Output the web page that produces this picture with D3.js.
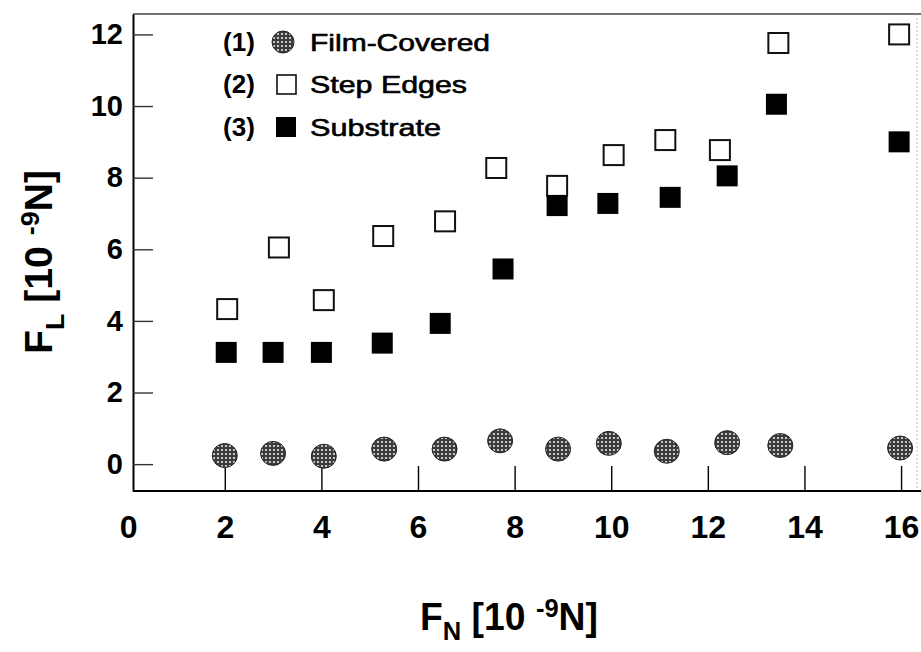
<!DOCTYPE html>
<html>
<head>
<meta charset="utf-8">
<script src="https://cdn.jsdelivr.net/npm/d3@7"></script>
<style>
    body { margin: 0; background: #fff; }
    svg { display: block; }
    text { font-family: "Liberation Sans", Arial, Helvetica, sans-serif; fill: #000; }
</style>
</head>
<body>
<svg id="chart" width="921" height="652"></svg>
<script>
// normal force (x) for each measurement, 10^-9 N
var loadFilm = [2.0, 3.0, 4.05, 5.3, 6.55, 7.7, 8.9, 9.95, 11.15, 12.4, 13.5, 15.98];
var lateralFilm = [0.24, 0.3, 0.22, 0.42, 0.42, 0.65, 0.42, 0.58, 0.36, 0.6, 0.52, 0.45];

var loadStep = [2.05, 3.12, 4.05, 5.28, 6.56, 7.62, 8.88, 10.05, 11.12, 12.25, 13.46, 15.96];
var lateralStep = [4.33, 6.05, 4.58, 6.37, 6.78, 8.27, 7.77, 8.63, 9.05, 8.77, 11.76, 12.0];

var loadSub = [2.03, 3.0, 4.0, 5.26, 6.46, 7.76, 8.88, 9.93, 11.22, 12.4, 13.42, 15.96];
var lateralSub = [3.12, 3.12, 3.12, 3.38, 3.93, 5.45, 7.22, 7.28, 7.45, 8.05, 10.05, 9.0];

var legendNums = ["(1)", "(2)", "(3)"];
var legendNames = ["Film-Covered", "Step Edges", "Substrate"];
var xTicks = [0, 2, 4, 6, 8, 10, 12, 14, 16];
var yTicks = [0, 2, 4, 6, 8, 10, 12];

function drawChart() {
    var svg = d3.select("#chart");

    var x = d3.scaleLinear().domain([0.1, 16.33]).range([133, 917]);
    var y = d3.scaleLinear().domain([-0.75, 12.57]).range([491, 14]);

    // dotted grey fill used for the film-covered circles
    var defs = svg.append("defs");
    var pat = defs.append("pattern")
        .attr("id", "dots")
        .attr("patternUnits", "userSpaceOnUse")
        .attr("width", 4)
        .attr("height", 4);
    pat.append("rect").attr("width", 4).attr("height", 4).attr("fill", "#3c3c3c");
    pat.append("circle").attr("cx", 2).attr("cy", 2).attr("r", 1.1).attr("fill", "#e6e6e6");

    // frame: top and right border lines
    svg.append("line")
        .attr("x1", x.range()[0]).attr("x2", 921)
        .attr("y1", y.range()[1]).attr("y2", y.range()[1])
        .attr("stroke", "#444").attr("stroke-width", 1.6);
    svg.append("line")
        .attr("x1", x.range()[1]).attr("x2", x.range()[1])
        .attr("y1", y.range()[1]).attr("y2", y.range()[0])
        .attr("stroke", "#bbb").attr("stroke-width", 1)
        .attr("stroke-dasharray", "2,2");

    var xAxis = svg.append("g")
        .attr("transform", "translate(0," + y.range()[0] + ")")
        .call(d3.axisBottom(x).tickValues(xTicks).tickSize(-25).tickSizeOuter(0).tickPadding(24)
            .tickFormat(d3.format("d")));
    xAxis.select(".domain").attr("stroke-width", 2).attr("d", "M" + x.range()[0] + ",0H921");
    xAxis.selectAll(".tick line").attr("stroke-width", 1.4)
        .filter(function(d) { return d === 0; }).remove();
    xAxis.selectAll(".tick text")
        .attr("font-size", 32).attr("font-weight", "bold")
        .attr("font-family", "Liberation Sans, Arial, sans-serif");

    var yAxis = svg.append("g")
        .attr("transform", "translate(" + x.range()[0] + ",0)")
        .call(d3.axisLeft(y).tickValues(yTicks).tickSize(-20).tickSizeOuter(0).tickPadding(10));
    yAxis.select(".domain").attr("stroke-width", 2);
    yAxis.selectAll(".tick line").attr("stroke-width", 1.4).attr("stroke", "#333");
    yAxis.selectAll(".tick text")
        .attr("font-size", 29).attr("font-weight", "bold")
        .attr("font-family", "Liberation Sans, Arial, sans-serif");

    // series 1 - film covered
    svg.append("g").selectAll("ellipse")
        .data(loadFilm)
        .enter().append("ellipse")
        .attr("cx", function(d) { return x(d); })
        .attr("cy", function(d, i) { return y(lateralFilm[i]); })
        .attr("rx", 12.5)
        .attr("ry", 12)
        .attr("fill", "url(#dots)")
        .attr("stroke", "#222")
        .attr("stroke-width", 1);

    // series 2 - step edges
    svg.append("g").selectAll("rect")
        .data(loadStep)
        .enter().append("rect")
        .attr("x", function(d) { return x(d) - 10; })
        .attr("y", function(d, i) { return y(lateralStep[i]) - 10; })
        .attr("width", 20)
        .attr("height", 20)
        .attr("fill", "#fff")
        .attr("stroke", "#111")
        .attr("stroke-width", 2);

    // series 3 - substrate
    svg.append("g").selectAll("rect")
        .data(loadSub)
        .enter().append("rect")
        .attr("x", function(d) { return x(d) - 10.5; })
        .attr("y", function(d, i) { return y(lateralSub[i]) - 10.5; })
        .attr("width", 21)
        .attr("height", 21)
        .attr("fill", "#000");

    // legend
    var rowY = [42, 84, 127];
    var nameWidths = [180, 157, 131];
    var legend = svg.append("g");
    legendNums.forEach(function(num, i) {
        legend.append("text")
            .attr("x", 239).attr("y", rowY[i])
            .attr("dy", "0.36em")
            .attr("text-anchor", "middle")
            .attr("font-size", 26).attr("font-weight", "bold")
            .text(num);
        legend.append("text")
            .attr("x", 310).attr("y", rowY[i])
            .attr("dy", "0.36em")
            .attr("font-size", 24)
            .attr("stroke", "#000").attr("stroke-width", 0.6)
            .attr("textLength", nameWidths[i])
            .attr("lengthAdjust", "spacingAndGlyphs")
            .text(legendNames[i]);
    });
    legend.append("circle")
        .attr("cx", 283).attr("cy", rowY[0]).attr("r", 11)
        .attr("fill", "url(#dots)").attr("stroke", "#222");
    legend.append("rect")
        .attr("x", 277).attr("y", rowY[1] - 9).attr("width", 19).attr("height", 19)
        .attr("fill", "#fff").attr("stroke", "#111").attr("stroke-width", 1.6);
    legend.append("rect")
        .attr("x", 276).attr("y", rowY[2] - 10).attr("width", 20).attr("height", 20)
        .attr("fill", "#000");

    // axis titles
    var xTitle = svg.append("text")
        .attr("x", 509).attr("y", 630)
        .attr("text-anchor", "middle")
        .attr("font-size", 38).attr("font-weight", "bold")
        .attr("textLength", 178).attr("lengthAdjust", "spacingAndGlyphs");
    xTitle.append("tspan").text("F");
    xTitle.append("tspan").attr("dy", 10).attr("font-size", 26).text("N");
    xTitle.append("tspan").attr("dy", -10).text(" [10 ");
    xTitle.append("tspan").attr("dy", -13).attr("font-size", 26).text("-9");
    xTitle.append("tspan").attr("dy", 13).text("N]");

    var yTitle = svg.append("text")
        .attr("transform", "translate(52,262) rotate(-90)")
        .attr("text-anchor", "middle")
        .attr("font-size", 38).attr("font-weight", "bold")
        .attr("textLength", 184).attr("lengthAdjust", "spacingAndGlyphs");
    yTitle.append("tspan").text("F");
    yTitle.append("tspan").attr("dy", 12).attr("font-size", 26).text("L");
    yTitle.append("tspan").attr("dy", -12).text(" [10 ");
    yTitle.append("tspan").attr("dy", -13).attr("font-size", 26).text("-9");
    yTitle.append("tspan").attr("dy", 13).text("N]");
}

drawChart();
</script>
</body>
</html>
